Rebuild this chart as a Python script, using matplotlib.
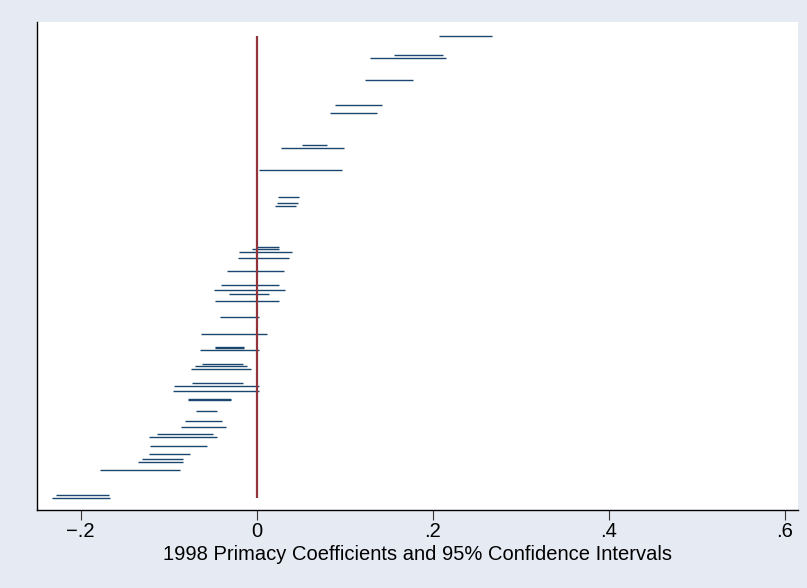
# Recreate the Stata-style coefficient / confidence interval chart.
import numpy as np
from matplotlib import pyplot as plt
from matplotlib import font_manager

# Vertical position of each interval (arbitrary rank units, top = largest).
ypos = [474.3, 455.0, 452.0, 430.0, 404.7, 397.3, 364.7, 361.7, 339.7,
        312.7, 306.7, 304.0, 263.3, 260.7, 258.0, 252.0, 238.7, 225.0,
        219.7, 216.3, 209.0, 192.7, 176.0, 162.8, 161.8, 160.0, 145.7,
        143.7, 140.7, 127.3, 124.3, 118.7, 111.2, 110.2, 99.3, 89.0,
        83.0, 75.7, 72.7, 63.7, 56.3, 50.7, 47.7, 40.0, 15.0, 12.0]

# Lower and upper bounds of the 95% confidence intervals.
lower = [0.207, 0.156, 0.129, 0.123, 0.089, 0.083, 0.051, 0.028, 0.003,
         0.024, 0.0225, 0.021, -0.001, -0.005, -0.020, -0.021, -0.034, -0.041,
         -0.049, -0.032, -0.047, -0.042, -0.063, -0.047, -0.047, -0.064, -0.062,
         -0.070, -0.075, -0.074, -0.094, -0.095, -0.078, -0.078, -0.069, -0.082,
         -0.086, -0.113, -0.123, -0.121, -0.122, -0.130, -0.135, -0.178, -0.228, -0.233]
upper = [0.267, 0.211, 0.215, 0.177, 0.142, 0.137, 0.080, 0.099, 0.097,
         0.048, 0.0465, 0.045, 0.025, 0.025, 0.040, 0.037, 0.031, 0.025,
         0.032, 0.014, 0.025, 0.003, 0.012, -0.014, -0.014, 0.002, -0.016,
         -0.011, -0.006, -0.016, 0.003, 0.002, -0.029, -0.029, -0.045, -0.039,
         -0.035, -0.050, -0.045, -0.057, -0.076, -0.084, -0.084, -0.087, -0.168, -0.167]

xticks = [-0.2, 0, 0.2, 0.4, 0.6]
xticklabels = ["\u2212.2", "0", ".2", ".4", ".6"]
xlabel = "1998 Primacy Coefficients and 95% Confidence Intervals"

plt.rcParams['font.family'] = ['Liberation Sans', 'DejaVu Sans']

bg = "#e6eaf3"
fig = plt.figure(figsize=(8.07, 5.88), dpi=100, facecolor=bg)
ax = fig.add_axes([0.0455, 0.1327, 0.9435, 0.8299])
ax.set_facecolor("white")

# Confidence interval segments.
ax.hlines(ypos, lower, upper, color="#1a476f", linewidth=1.0)

# Reference line at zero.
ax.vlines(0, min(ypos), max(ypos), color="#90353b", linewidth=1.6)

ax.set_xlim(-0.250, 0.615)
ax.set_ylim(0, 488)

ax.set_xticks(xticks)
ax.set_xticklabels(xticklabels, fontsize=14.5)
ax.tick_params(axis="x", length=7, width=0.8, color="#333333", pad=1.5)
ax.set_yticks([])
ax.set_xlabel(xlabel, fontsize=14.5, labelpad=3)

for side in ["top", "right"]:
    ax.spines[side].set_visible(False)
for side in ["left", "bottom"]:
    ax.spines[side].set_color("black")
    ax.spines[side].set_linewidth(1.0)

fig.savefig("out.png", dpi=100, facecolor=bg)
